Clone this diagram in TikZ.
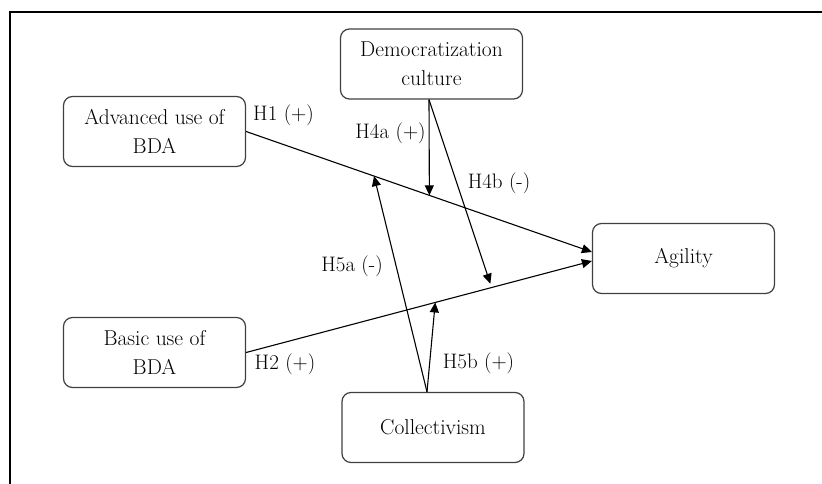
\documentclass[tikz,border=0pt]{standalone}
\usepackage{fontspec}
\usetikzlibrary{arrows.meta}
\begin{document}
\begin{tikzpicture}[x=1pt, y=-1pt,
	box/.style={draw=black!75, line width=1.2pt, rounded corners=9pt, minimum width=182pt, minimum height=70pt, align=center, text=black, font=\fontsize{21.5}{29}\selectfont},
	lab/.style={text=black, font=\fontsize{21}{26}\selectfont, inner sep=0pt},
	arr/.style={line width=1.1pt, -{Triangle[length=10pt,width=9pt]}}]
	\useasboundingbox (0,0) rectangle (822,484);
	\draw[line width=2pt] (9.7,484) -- (9.7,11.7) -- (822,11.7);
	% constructs
	\node[box] (dem) at (431.5,64) {Democratization\\culture};
	\node[box] (adv) at (154.5,131.5) {Advanced use of\\BDA};
	\node[box] (agi) at (683.5,258.5) {Agility};
	\node[box] (bas) at (154.5,352.5) {Basic use of\\BDA};
	\node[box] (col) at (433,427.5) {Collectivism};
	% direct effects
	\draw[arr] (adv.east) -- coordinate[pos=0.37] (m5a) coordinate[pos=0.53] (m4a) ([yshift=6.5pt]agi.west);
	\draw[arr] (bas.east) -- coordinate[pos=0.547] (m5b) coordinate[pos=0.71] (m4b) ([yshift=-2.5pt]agi.west);
	% moderators
	\draw[arr] ([xshift=-2.5pt]dem.south) -- (m4a);
	\draw[arr, shorten >=4pt] ([xshift=-2.5pt]dem.south) -- (m4b);
	\draw[arr] ([xshift=-6pt]col.north) -- (m5a);
	\draw[arr] ([xshift=-6pt]col.north) -- (m5b);
	% hypotheses
	\node[lab] (h1) at (283.5,115) {H1 (+)};
	\node[lab] (h4a) at (390.5,133) {H4a (+)};
	\node[lab] (h4b) at (499,183) {H4b (-)};
	\node[lab] (h5a) at (352,266) {H5a (-)};
	\node[lab] (h2) at (285,364) {H2 (+)};
	\node[lab] (h5b) at (478.5,363) {H5b (+)};
\end{tikzpicture}
\end{document}
